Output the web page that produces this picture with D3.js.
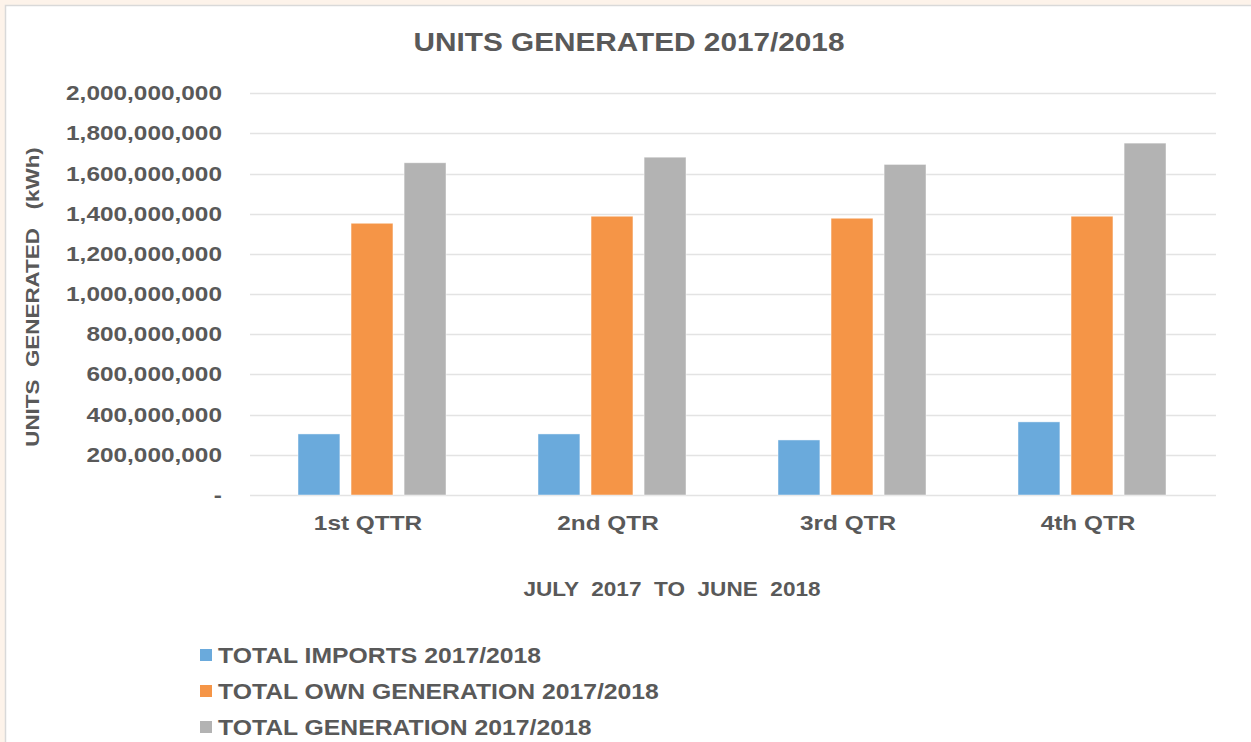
<!DOCTYPE html>
<html>
<head>
<meta charset="utf-8">
<script src="https://cdn.jsdelivr.net/npm/d3@7"></script>
<style>
html,body{margin:0;padding:0;background:#fdf3ea;}
svg{display:block;}
text{font-family:"Liberation Sans",Arial,sans-serif;font-weight:bold;fill:#595959;white-space:pre;}
</style>
</head>
<body>
<svg id="chart" width="1251" height="742"></svg>
<script>
const categories = ["1st QTTR", "2nd QTR", "3rd QTR", "4th QTR"];
const seriesNames = ["TOTAL IMPORTS 2017/2018", "TOTAL OWN GENERATION 2017/2018", "TOTAL GENERATION 2017/2018"];
const imports = [304000000, 304000000, 274000000, 364000000];
const ownGeneration = [1353000000, 1388000000, 1378000000, 1388000000];
const totalGeneration = [1654000000, 1682000000, 1646000000, 1752000000];
const yTicks = [0, 200000000, 400000000, 600000000, 800000000, 1000000000, 1200000000, 1400000000, 1600000000, 1800000000, 2000000000];
const colors = ["#6aaadc", "#f59547", "#b3b3b3"];
const seriesValues = [imports, ownGeneration, totalGeneration];

const svg = d3.select("#chart");
svg.append("rect").attr("x", 5.5).attr("y", 5.5).attr("width", 1260).attr("height", 760)
  .attr("fill", "#ffffff").attr("stroke", "#d9d9d9").attr("stroke-width", 1.5);

const plotLeft = 252, plotRight = 1212, plotTop = 93.3, plotBottom = 495;
const x0 = d3.scaleBand().domain(categories).range([plotLeft, plotRight]).padding(0);
const x1 = d3.scaleBand().domain(seriesNames).range([-74, 74]).paddingInner(0.21);
const y = d3.scaleLinear().domain([0, 2000000000]).range([plotBottom, plotTop]);

// helper: text placed at (x,y) with horizontal stretch sx and optional rotation
function label(parent, x, yy, txt, size, sx, anchor, rot) {
  const g = parent.append("g").attr("transform", `translate(${x},${yy})` + (rot ? ` rotate(${rot})` : ""));
  return g.append("text").attr("transform", `scale(${sx},1)`)
    .attr("text-anchor", anchor).style("font-size", size + "px").text(txt);
}

// gridlines
svg.append("g").selectAll("line").data(yTicks).join("line")
  .attr("x1", 250).attr("x2", 1216)
  .attr("y1", d => Math.round(y(d)) + 0.5).attr("y2", d => Math.round(y(d)) + 0.5)
  .attr("stroke", "#e3e3e3").attr("stroke-width", 1.5);

// y axis labels
const fmt = d3.format(",");
const yLab = svg.append("g");
yTicks.forEach(d => label(yLab, 222, y(d) + 7, d === 0 ? "-" : fmt(d), 20, 1.22, "end"));

// bars
const groups = svg.append("g").selectAll("g").data(categories).join("g")
  .attr("transform", c => `translate(${x0(c) + x0.bandwidth() / 2},0)`);
groups.selectAll("rect").data((c, i) => seriesNames.map((s, j) => ({ s, j, v: seriesValues[j][i] })))
  .join("rect")
  .attr("x", d => x1(d.s)).attr("width", x1.bandwidth())
  .attr("y", d => y(d.v)).attr("height", d => y(0) - y(d.v))
  .attr("fill", d => colors[d.j])
  .attr("stroke", "#ffffff").attr("stroke-opacity", 0.6).attr("stroke-width", 0.75);

// x labels
const xLab = svg.append("g");
categories.forEach(c => label(xLab, x0(c) + x0.bandwidth() / 2 - 4, 530, c, 21, 1.16, "middle"));

// title
label(svg, 629, 51, "UNITS GENERATED 2017/2018", 25, 1.19, "middle");

// y axis title
label(svg, 39, 297, "UNITS  GENERATED   (kWh)", 19, 1.18, "middle", -90);

// x axis title
label(svg, 672, 596, "JULY  2017  TO  JUNE  2018", 20, 1.13, "middle");

// legend
seriesNames.forEach((s, i) => {
  const yy = 655 + i * 36;
  svg.append("rect").attr("x", 200).attr("y", yy - 6).attr("width", 12).attr("height", 12).attr("fill", colors[i]);
  label(svg, 218, yy + 8, s, 22, 1.125, "start");
});
</script>
</body>
</html>
